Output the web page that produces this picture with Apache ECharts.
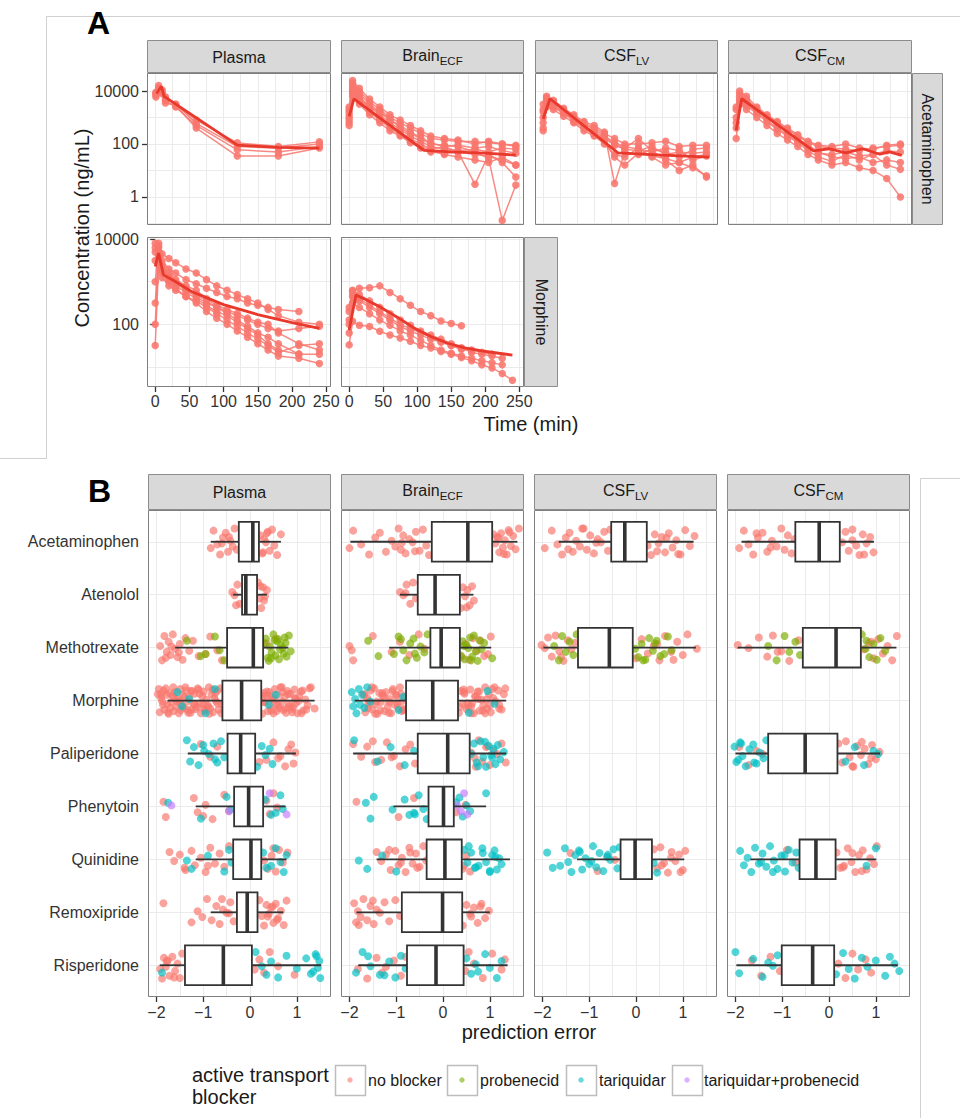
<!DOCTYPE html>
<html><head><meta charset="utf-8">
<script src="https://cdn.jsdelivr.net/npm/echarts@6/dist/echarts.min.js"></script>
<style>html,body{margin:0;padding:0;background:#fff}#c{width:960px;height:1118px}</style>
</head><body><div id="c"></div><script>
// ---------------- DATA ----------------
const COMPARTMENTS = ['Plasma', 'BrainECF', 'CSFLV', 'CSFCM'];
const DRUGS = ['Acetaminophen','Atenolol','Methotrexate','Morphine','Paliperidone','Phenytoin','Quinidine','Remoxipride','Risperidone'];
const BLOCKERS = ['no blocker','probenecid','tariquidar','tariquidar+probenecid'];
const TIME_TICKS = [0,50,100,150,200,250];
const TIME_MINOR = [25,75,125,175,225];
const CONC_TICKS_ROW1 = [1,100,10000];
const CONC_MINOR_ROW1 = [0.1,10,1000];
const CONC_TICKS_ROW2 = [100,10000];
const CONC_MINOR_ROW2 = [10,1000];
const ERR_TICKS = [-2,-1,0,1];
const ERR_MINOR = [-1.5,-0.5,0.5,1.5];

// Panel A: Acetaminophen
const apapPlasmaT = [1,5,10,15,30,60,120,180,240];
const apapPlasmaSubj = [
 [7000,13000,11000,6000,3000,800,110,80,120],
 [9000,16000,9000,4500,2500,500,60,50,80],
 [6000,10000,8000,3500,2800,400,35,35,70],
 [8000,12000,10000,5500,3200,600,80,70,100]];
const apapPlasmaModel = [[2,8000],[9,15000],[13,6300],[120,90],[180,75],[240,70]];

const apapBrainT = [0,5,15,30,45,60,75,90,105,120,140,160,185,205,225,245];
const apapBrainSubj = [
 [2000,20000,10000,4000,2000,1000,630,400,250,160,140,125,125,110,100,90],
 [1000,12600,6300,2500,1260,630,355,200,126,80,63,56,63,50,70,63],
 [630,8000,4000,1600,800,400,224,126,80,56,40,32,25,20,32,16],
 [2500,16000,8000,3200,1600,800,500,280,180,110,80,50,3,40,20,5.6],
 [800,25000,12600,5000,2500,1260,800,500,316,200,160,140,100,126,100,80],
 [1260,6300,3200,1260,630,316,200,112,70,50,45,50,40,35,25,16],
 [500,10000,5000,2000,1000,500,280,160,100,63,80,90,70,80,56,45],
 [1600,10000,5000,2500,1600,900,400,250,160,100,90,80,50,28,0.13,2.8]];
const apapBrainModel = [[0,1100],[7,5000],[110,57],[150,50],[200,45],[245,38]];

const apapCsfT = [0,5,15,30,45,60,75,90,105,120,140,160,180,200,220,240];
const apapLvSubj = [
 [3160,5600,4000,2000,1120,630,400,250,160,100,100,112,126,80,90,90],
 [1000,4000,2800,1600,800,450,250,160,90,63,56,80,40,50,45,50],
 [400,2500,2000,1120,630,316,200,100,40,32,70,32,16,20,32,40],
 [1600,6300,4500,2240,1260,700,500,280,3.2,50,40,63,50,32,63,70],
 [316,3160,2500,1400,900,500,280,180,100,70,160,56,25,10,16,5.6],
 [2000,5000,3500,1800,1000,560,355,200,112,80,63,50,70,56,25,35],
 [630,3500,2800,1600,700,400,224,126,32,16,45,35,28,20,12.6,6.3]];
const apapLvModel = [[0,900],[10,5100],[110,46],[175,38],[244,32]];
const apapCmSubj = [
 [2000,8000,5000,2240,1120,630,355,200,112,80,70,63,56,70,80,90],
 [400,5000,3160,1600,800,400,224,126,70,45,40,50,35,40,56,50],
 [160,3160,2000,1000,500,250,140,80,40,25,16,20,12.6,10,5,1],
 [1000,6300,4000,2000,1000,500,280,160,90,50,32,28,32,20,25,20],
 [630,4000,2800,1400,700,355,200,112,56,32,22,40,25,40,16,11],
 [2500,10000,6300,2500,1260,700,400,224,126,90,80,100,70,63,90,100]];
const apapCmModel = [[0,330],[8,5100],[113,55],[136,66],[160,46],[185,66],[210,41],[224,50],[242,37]];

// Panel A: Morphine
const morphPlasmaT = [0,5,10,20,30,45,60,75,90,105,120,135,150,165,180,210,240];
const morphPlasmaSubj = [
 [8000,6300,3160,2000,1600,1120,900,700,560,450,400,316,280,250,224,200,null],
 [6300,5000,2000,1260,900,630,450,316,250,200,160,126,100,80,70,80,90],
 [1000,7000,2500,1400,1000,700,500,355,250,180,126,90,63,50,35,20,20],
 [100,4000,1600,1000,700,450,316,200,140,100,70,50,35,25,18,16,12],
 [3160,4000,1800,1120,800,560,400,280,200,160,112,80,56,35,25,20,null],
 [32,2500,1260,800,630,450,355,250,180,126,90,63,45,32,22,32,35],
 [5000,8000,4500,3500,2800,2000,1600,1120,800,630,500,400,316,224,160,112,100],
 [316,5000,2240,1600,1120,800,630,400,280,224,180,140,112,100,63,35,25]];
const morphPlasmaModel = [[0,2300],[5,4700],[12,1450],[30,1000],[53,590],[100,290],[150,170],[200,110],[240,80]];

const morphBrainT = [0,5,15,30,45,60,75,90,105,120,135,150,165,180,195,210,225,240];
const morphBrainSubj = [
 [200,600,700,720,800,560,400,280,200,160,120,105,93,null,null,null,null,null],
 [33,118,95,89,69,56,48,40,32,28,23,20,16.6,14,11.2,9.5,7,4.9],
 [100,500,400,280,200,140,100,80,63,50,40,32,28,25,22,20,null,null],
 [250,630,500,355,250,178,126,95,70,56,45,35,28,22,20,18,16,null],
 [63,316,250,178,126,95,70,56,42,32,25,21,18,16,14,12.6,11.2,null],
 [126,450,355,250,178,126,89,70,56,45,38,32,26,24,null,null,null,null]];
const morphBrainModel = [[0,74],[10,490],[25,380],[45,260],[70,150],[96,81],[120,52],[145,36],[170,28],[195,24],[220,21],[240,19]];

// Panel B: box statistics [drug, min, Q1, median, Q3, max]
const boxPlasma = [
 [0,-0.84,-0.24,0.06,0.19,0.66],[1,-0.36,-0.17,-0.09,0.15,0.36],[2,-1.6,-0.49,0.07,0.28,0.82],
 [3,-1.76,-0.59,-0.18,0.24,1.38],[4,-1.33,-0.48,-0.2,0.11,0.98],[5,-1.16,-0.34,-0.03,0.28,0.76],
 [6,-1.16,-0.36,0.02,0.24,0.78],[7,-0.84,-0.28,-0.06,0.16,0.71],[8,-1.93,-1.39,-0.57,0.04,1.52]];
const boxBrain = [
 [0,-1.98,-0.24,0.53,1.05,1.59],[1,-0.92,-0.54,-0.17,0.36,0.65],[2,-1.15,-0.27,-0.04,0.36,1.03],
 [3,-1.89,-0.79,-0.22,0.32,1.35],[4,-1.92,-0.54,0.10,0.57,1.35],[5,-1.06,-0.31,0.01,0.23,0.92],
 [6,-1.42,-0.35,0.04,0.40,1.43],[7,-1.85,-0.88,-0.01,0.41,1.0],[8,-1.81,-0.77,-0.15,0.44,1.38]];
const boxCsfLv = [
 [0,-1.65,-0.53,-0.24,0.23,1.23],[2,-1.98,-1.24,-0.57,-0.07,1.28],[6,-1.26,-0.33,-0.02,0.34,1.03]];
const boxCsfCm = [
 [0,-1.87,-0.72,-0.21,0.23,0.96],[2,-1.95,-0.56,0.15,0.68,1.44],[4,-2.0,-1.30,-0.51,0.18,1.09],
 [6,-1.68,-0.63,-0.28,0.14,1.01],[8,-1.98,-1.01,-0.35,0.11,1.47]];

// Panel B: observed prediction errors [drug, blocker, values]
const JITTER = [0.12,-0.21,0.05,0.24,-0.08,-0.17,0.19,-0.02,0.09,-0.25,0.15,-0.12,0.22,-0.05,0.01,-0.19,0.17,-0.23,0.07,0.25,-0.14,0.03,-0.09,0.2,-0.16,0.11,-0.03,0.24,-0.22,0.08,-0.11,0.14,-0.25,0.02,0.18,-0.07,0.23,-0.18,0.06,-0.13,0.16];
const morphPlasmaNB = [-1.97,-1.93,-1.9,-1.88,-1.85,-1.83,-1.8,-1.77,-1.74,-1.72,-1.69,-1.66,-1.63,-1.6,-1.58,-1.55,-1.52,-1.49,-1.47,-1.44,-1.41,-1.38,-1.35,-1.33,-1.3,-1.27,-1.24,-1.21,-1.19,-1.16,-1.13,-1.1,-1.07,-1.05,-1.02,-0.99,-0.96,-0.93,-0.9,-0.88,-0.85,-0.82,-0.79,-0.76,-0.73,-0.7,-0.67,-0.64,-0.61,0.26,0.29,0.32,0.35,0.38,0.41,0.44,0.47,0.5,0.53,0.56,0.59,0.62,0.65,0.68,0.71,0.74,0.77,0.8,0.83,0.86,0.89,0.92,0.95,0.98,1.01,1.05,1.09,1.13,1.18,1.23,1.3,1.38,-1.9,-1.75,-1.62,-1.5,-1.36,-1.25,-1.12,-1.0,-0.87,-0.74,0.3,0.43,0.57,0.7,0.84,0.97,1.1,-1.95,-1.86,-1.78,-1.7,-1.64,-1.56,-1.48,-1.4,-1.32,-1.26,-1.18,-1.08,-0.98,-0.9,-0.8,-0.7,-0.62,0.27,0.36,0.45,0.52,0.6,0.68,0.75,0.82,0.9,0.96,1.04,1.12,1.2,1.27];
const morphBrainNB = [-1.7,-1.66,-1.62,-1.58,-1.55,-1.51,-1.47,-1.44,-1.4,-1.36,-1.33,-1.29,-1.25,-1.22,-1.18,-1.14,-1.11,-1.07,-1.03,-1.0,-0.96,-0.92,-0.89,-0.85,-0.81,0.34,0.38,0.42,0.46,0.5,0.54,0.58,0.62,0.66,0.7,0.74,0.78,0.82,0.86,0.9,0.94,0.98,1.02,1.07,1.12,1.18,1.25,1.33,-1.6,-1.45,-1.3,-1.15,-1.0,-0.88,0.45,0.6,0.75,0.9,1.05,1.2,-1.68,-1.6,-1.52,-1.42,-1.34,-1.26,-1.16,-1.08,-0.98,-0.9,-0.83,0.36,0.44,0.52,0.6,0.68,0.77,0.85,0.93,1.0,1.1,1.2,1.3];
const morphBrainTar = [-1.95,-1.92,-1.88,-1.85,-1.8,-1.77,-1.73,-1.68,-1.62,-1.55,-0.95,-0.85,0.55,0.95,1.1];
const ptsPlasma = [
 [0,0,[-0.84,-0.78,-0.7,-0.64,-0.58,-0.52,-0.47,-0.42,-0.37,-0.33,-0.28,0.22,0.26,0.3,0.34,0.38,0.42,0.47,0.52,0.58,0.66,-0.6,-0.45,0.28,0.36]],
 [1,0,[-0.38,-0.33,-0.27,-0.22,0.17,0.2,0.24,0.28,0.32,0.36,-0.3,0.22,0.3]],
 [2,0,[-1.92,-1.88,-1.83,-1.78,-1.74,-1.7,-1.65,-1.6,-1.55,-1.5,-1.44,-1.38,-1.3,-1.22,-1.1,-0.95,-0.85,-0.7,-0.6,0.35,0.55,-1.8,-1.68,-1.52]],
 [2,1,[-1.35,-1.05,-0.95,-0.75,-0.65,-0.55,0.3,0.34,0.38,0.42,0.46,0.5,0.54,0.58,0.62,0.66,0.7,0.74,0.78,0.83,0.87,0.4,0.52,0.64,0.76,0.45,0.6,0.72]],
 [3,0,morphPlasmaNB],
 [3,2,[-1.55,-1.45,-1.3,-0.95,-0.75,0.4,0.55]],
 [4,0,[-1.05,-0.85,-0.7,0.2,0.35,0.5,0.65,0.75,0.82,0.88,0.93,0.97,0.6]],
 [4,2,[-1.35,-1.28,-1.2,-1.1,-0.98,-0.88,-0.78,-0.7,-0.62,-0.55,0.15,0.25,0.33,0.42,0.48,-1.0,-0.75]],
 [5,0,[-1.85,-1.8,-1.2,-1.12,-0.95,-0.8,-0.55,-0.45,0.35,0.42,0.5,0.58,-1.0]],
 [5,2,[-1.75,-1.05,-0.5,-0.42,0.32,0.45,0.55,0.65,0.7]],
 [5,3,[-1.68,-0.45,0.42,0.78]],
 [6,0,[-1.72,-1.62,-1.5,-1.38,-1.25,-1.18,-1.05,-0.95,-0.85,-0.75,-0.65,-0.55,-0.45,0.3,0.38,0.46,0.55,0.62,0.7,0.8,-1.4,-0.9,0.5]],
 [6,2,[-1.35,-1.25,-0.9,-0.55,-0.45,-0.4,0.28,0.35,0.45,0.55,0.65,0.72,0.78]],
 [7,0,[-1.85,-1.25,-1.12,-1.02,-0.92,-0.82,-0.72,-0.65,-0.58,-0.5,-0.42,-0.35,0.2,0.25,0.3,0.35,0.4,0.45,0.5,0.55,0.6,0.66,0.72,0.78,0.38,0.48,0.58,-0.6,-0.45]],
 [8,0,[-1.92,-1.88,-1.84,-1.8,-1.76,-1.72,-1.66,-1.6,-1.55,-1.5,-1.45,0.1,0.2,0.3,0.42,0.6,0.95,-1.78,-1.62]],
 [8,2,[-1.88,0.12,0.25,0.35,0.45,0.6,0.78,1.0,1.2,1.3,1.35,1.4,1.45,1.5,1.48,1.42]]];
const ptsBrain = [
 [0,0,[-2.0,-1.92,-1.75,-1.58,-1.45,-1.35,-1.22,-1.1,-1.02,-0.95,-0.9,-0.85,-0.8,-0.72,-0.65,-0.58,-0.5,-0.43,-0.36,-0.3,1.08,1.12,1.16,1.2,1.24,1.28,1.32,1.36,1.4,1.45,1.5,1.55,1.62,-0.88,-0.6,1.18,1.3,1.42]],
 [1,0,[-0.92,-0.85,-0.78,-0.7,-0.64,-0.58,0.38,0.42,0.47,0.52,0.57,0.62,0.66,-0.8,0.5]],
 [2,0,[-2.0,-1.92,-1.5,-1.1,-0.92,-0.72,-0.52,-0.4,0.4,0.48,0.56,0.64,0.72,0.8,0.88,0.96,1.02,-1.95]],
 [2,1,[-1.6,-1.38,-1.05,-0.95,-0.85,-0.78,-0.7,-0.63,-0.56,-0.48,-0.4,-0.33,0.38,0.42,0.46,0.5,0.54,0.58,0.62,0.66,0.7,0.74,0.78,0.82,0.88,1.05,-0.9,-0.6,0.45,0.6]],
 [3,0,morphBrainNB],
 [3,2,morphBrainTar],
 [4,0,[-1.92,-1.75,-1.62,-1.45,-1.32,-1.2,-1.05,-0.92,-0.8,-0.7,-0.6,0.6,0.68,0.76,0.84,0.92,1.0,1.08,1.16,1.25,1.34,-1.5,-1.1,0.7,0.95]],
 [4,2,[-1.9,-1.4,-1.12,-0.82,-0.62,0.6,0.66,0.72,0.8,0.86,0.92,0.98,1.03,1.08,1.12,1.17,1.22,1.3,0.75,0.9,1.05]],
 [5,0,[-1.85,-0.95,-0.62,0.28,0.48]],
 [5,2,[-1.65,-1.55,-1.48,-1.08,-0.82,-0.72,-0.62,-0.52,-0.42,-0.35,0.28,0.35,0.42,0.5,0.58,0.92,-0.6]],
 [5,3,[0.3,0.38,0.45,0.52]],
 [6,0,[-1.42,-1.32,-1.22,-1.12,-1.02,-0.95,-0.88,-0.8,-0.72,-0.65,-0.58,-0.5,-0.42,-0.36,0.42,0.5,0.58,-1.15,-0.9,-0.7,-0.55,0.45]],
 [6,2,[-1.8,-1.62,-1.3,-1.0,0.45,0.52,0.6,0.68,0.76,0.84,0.92,1.0,1.05,1.1,1.15,1.2,1.25,0.55,0.7,0.85,1.0,1.12]],
 [7,0,[-1.9,-1.86,-1.82,-1.76,-1.7,-1.62,-1.55,-1.48,-1.42,-1.35,-1.25,-1.15,-1.02,-0.92,0.42,0.5,0.58,0.66,0.74,0.82,0.9,0.98,-1.8,-1.5,0.6,0.8]],
 [8,0,[-1.82,-1.62,-1.42,-1.22,-1.05,-0.9,-0.8,0.48,0.66,0.85,1.05,1.25,1.32,-1.3,0.55]],
 [8,2,[-1.86,-1.72,-1.55,-1.35,-1.15,-1.02,-0.9,-0.8,0.5,0.6,0.75,0.9,1.0,1.15,1.25,-1.6,-1.25,0.7]]];
const ptsCsfLv = [
 [0,0,[-1.95,-1.8,-1.68,-1.58,-1.5,-1.42,-1.35,-1.28,-1.2,-1.12,-1.05,-0.98,-0.9,-0.82,-0.75,-0.68,-0.6,-0.55,0.25,0.32,0.4,0.48,0.55,0.62,0.7,0.78,0.86,0.95,1.05,1.15,1.25,-1.45,-1.15,-0.85,0.45,0.65,0.9]],
 [2,0,[-2.02,-1.95,-1.88,-1.8,-1.72,-1.64,-1.55,-1.46,-1.38,-1.3,0.0,0.12,0.25,0.38,0.5,0.62,0.75,0.88,1.0,1.1,1.3,-1.6,0.45,0.8]],
 [2,1,[-1.75,-1.65,-1.58,-1.5,-1.42,-1.34,-1.27,-0.02,0.05,0.12,0.2,0.28,0.36,0.44,0.52,0.6,0.68,0.76,0.15,0.4]],
 [6,2,[-1.9,-1.78,-1.62,-1.52,-1.45,-1.38,-1.3,-1.22,-1.15,-1.08,-1.0,-0.92,-0.85,-0.78,-0.7,-0.62,-0.55,-0.48,-0.4,-0.35,0.38,0.45,-1.2,-0.95,-0.6]],
 [6,0,[-1.4,-0.82,-0.6,-0.45,0.38,0.45,0.52,0.6,0.68,0.76,0.84,0.92,1.0,1.05,0.55,0.75,0.95]]];
const ptsCsfCm = [
 [0,0,[-1.92,-1.82,-1.72,-1.62,-1.52,-1.42,-1.32,-1.22,-1.12,-1.02,-0.95,-0.88,-0.8,-0.74,0.28,0.35,0.42,0.5,0.58,0.65,0.72,0.8,0.88,0.95,-1.55,-1.25,0.5,0.75]],
 [2,0,[-1.95,-1.72,-1.5,-1.32,-1.2,-1.02,-0.85,-0.65,0.75,0.85,0.95,1.05,1.15,1.25,1.35,1.45,-1.1,0.9]],
 [2,1,[-1.3,-1.12,-0.95,-0.85,-0.72,-0.62,0.7,0.78,0.86,0.95,1.02,1.1,1.2,0.8]],
 [4,2,[-2.02,-1.98,-1.94,-1.9,-1.85,-1.78,-1.7,-1.62,-1.55,-1.48,-1.4,-1.34,0.35,0.55,0.75,0.95,1.05,-1.88,-1.6]],
 [4,0,[-1.92,-1.72,-1.55,-1.42,0.2,0.28,0.36,0.44,0.52,0.6,0.68,0.76,0.84,0.92,1.0,1.08,0.5,0.7,0.9]],
 [6,2,[-1.9,-1.82,-1.74,-1.66,-1.58,-1.5,-1.42,-1.34,-1.26,-1.18,-1.1,-1.02,-0.94,-0.86,-0.78,-0.7,-0.65,0.8,1.0,-1.45,-1.2,-0.95]],
 [6,0,[-0.9,-0.72,0.16,0.24,0.32,0.4,0.48,0.56,0.64,0.72,0.8,0.88,0.96,1.02,0.3,0.5,0.7]],
 [8,2,[-2.0,-1.92,-1.62,-1.42,-1.3,-1.2,-1.1,0.15,0.3,0.42,0.55,0.7,0.82,1.0,1.2,1.3,1.5,1.4]],
 [8,0,[-1.65,-1.45,-1.25,-1.05,0.2,0.35,0.5,0.62,0.78,0.9]]];

// ---------------- STYLE / LAYOUT ----------------
const FONT = '"Liberation Sans", Arial, Helvetica, sans-serif';
const GRID_LINE = '#ebebeb';
const TICK = '#333333';
const BORDER = '#7f7f7f';
const STRIP_FILL = '#d9d9d9';
const STRIP_BORDER = '#8c8c8c';
const INDIV = '#f8766d';
const MODEL = '#e8392c';
const BLOCKER_COLORS = ['#f8766d','#7cae00','#00bfc4','#c77cff'];
const A_COLS = [{left:147,width:184},{left:341,width:183},{left:535,width:183},{left:728,width:184}];
const A_ROW1 = {top:73,height:152};
const A_ROW2 = {top:237,height:150};
const B_COLS = [{left:148,width:183},{left:341,width:183},{left:534,width:183},{left:727,width:183}];
const B_ROW = {top:510,height:487};

const grids=[], xAxes=[], yAxes=[], series=[], graphics=[];
const log10 = Math.log10;

function addGrid(col,row){ grids.push({left:col.left,top:row.top,width:col.width,height:row.height,show:false,containLabel:false,outerBoundsMode:'none'}); return grids.length-1; }
function addAxis(list, gi, min, max, lines, ticks, fmt, extra, margin){
  list.push(Object.assign({type:'value',gridIndex:gi,min,max,axisLine:{show:false},axisLabel:{show:false},
    axisTick:{show:false,customValues:lines},splitLine:{show:true,lineStyle:{color:GRID_LINE,width:1}}},extra));
  const idx=list.length-1;
  if(ticks){
    list.push(Object.assign({type:'value',gridIndex:gi,min,max,axisLine:{show:false},splitLine:{show:false},
      axisTick:{show:true,customValues:ticks,length:5,lineStyle:{color:TICK,width:1.3}},
      axisLabel:{show:true,customValues:ticks,formatter:fmt,color:'#333',fontSize:16,fontFamily:FONT,margin:margin}},extra));
  }
  return idx;
}
function concFmt(v){ return String(Math.round(Math.pow(10,v))); }
function errFmt(v){ return v<0 ? '\u2212'+Math.abs(v) : String(v); }
function timeFmt(v){ return String(v); }
function box(col,rowTop,rowH){
  graphics.push({type:'rect',z:100,shape:{x:col.left+0.5,y:rowTop+0.5,width:col.width-1,height:rowH-1},style:{fill:'none',stroke:BORDER,lineWidth:1}});
}
function stripRect(x,y,w,h){ graphics.push({type:'rect',z:90,shape:{x:x+0.5,y:y+0.5,width:w-1,height:h-1},style:{fill:STRIP_FILL,stroke:STRIP_BORDER,lineWidth:1}}); }
function stripLabel(cx,cy,main,sub,rot){
  const style = sub ? {text:'{a|'+main+'}{s|'+sub+'}',rich:{a:{fontSize:16,fontFamily:FONT,fill:'#1a1a1a',verticalAlign:'bottom',padding:[0,0,3,0]},s:{fontSize:11.5,fontFamily:FONT,fill:'#1a1a1a',verticalAlign:'bottom'}},align:'center',verticalAlign:'middle'}
                    : {text:main,fontSize:16,fontFamily:FONT,fill:'#1a1a1a',align:'center',verticalAlign:'middle'};
  graphics.push({type:'text',z:95,x:cx,y:cy,rotation:rot||0,style});
}
function text(x,y,t,size,opts){
  graphics.push({type:'text',z:95,x,y,rotation:(opts&&opts.rot)||0,style:Object.assign({text:t,fontSize:size,fontFamily:FONT,fill:'#1a1a1a',align:'left',verticalAlign:'middle'},opts&&opts.style)});
}

// ---------------- PANEL A ----------------
const T_MIN=-12, T_MAX=257;
const R1 = [-1.06,4.68], R2=[0.53,4.05];
function linePanel(col,row,range,lines,ticks,showY,showX,times,subjects,model){
  const gi=addGrid(col,row);
  const xi=addAxis(xAxes,gi,T_MIN,T_MAX,TIME_TICKS.concat(TIME_MINOR),showX?TIME_TICKS:null,timeFmt,{position:'bottom'},6);
  const yi=addAxis(yAxes,gi,range[0],range[1],lines,showY?ticks:null,concFmt,{position:'left'},8);
  subjects.forEach(s=>{
    const d=[]; s.forEach((v,k)=>{ if(v!=null) d.push([times[k],log10(v)]); });
    series.push({type:'line',xAxisIndex:xi,yAxisIndex:yi,data:d,symbol:'circle',symbolSize:7.5,showSymbol:true,
      lineStyle:{color:INDIV,width:1.5,opacity:0.85},itemStyle:{color:INDIV,opacity:0.88},z:2,silent:true,animation:false});
  });
  series.push({type:'line',xAxisIndex:xi,yAxisIndex:yi,data:model.map(p=>[p[0],log10(p[1])]),symbol:'none',showSymbol:false,
    lineStyle:{color:MODEL,width:2.8},z:3,silent:true,animation:false});
  box(col,row.top,row.height);
}
const t1=CONC_TICKS_ROW1.map(log10), t2=CONC_TICKS_ROW2.map(log10);
const lines1=CONC_TICKS_ROW1.concat(CONC_MINOR_ROW1).map(log10), lines2=CONC_TICKS_ROW2.concat(CONC_MINOR_ROW2).map(log10);
linePanel(A_COLS[0],A_ROW1,R1,lines1,t1,true,false,apapPlasmaT,apapPlasmaSubj,apapPlasmaModel);
linePanel(A_COLS[1],A_ROW1,R1,lines1,t1,false,false,apapBrainT,apapBrainSubj,apapBrainModel);
linePanel(A_COLS[2],A_ROW1,R1,lines1,t1,false,false,apapCsfT,apapLvSubj,apapLvModel);
linePanel(A_COLS[3],A_ROW1,R1,lines1,t1,false,false,apapCsfT,apapCmSubj,apapCmModel);
linePanel(A_COLS[0],A_ROW2,R2,lines2,t2,true,true,morphPlasmaT,morphPlasmaSubj,morphPlasmaModel);
linePanel(A_COLS[1],A_ROW2,R2,lines2,t2,false,true,morphBrainT,morphBrainSubj,morphBrainModel);

// strips A
const stripNames = [['Plasma',null],['Brain','ECF'],['CSF','LV'],['CSF','CM']];
A_COLS.forEach((c,i)=>{ stripRect(c.left,40,c.width,A_ROW1.top-40); stripLabel(c.left+c.width/2,57,stripNames[i][0],stripNames[i][1]); });
stripRect(912,A_ROW1.top,31,A_ROW1.height); stripLabel(927.5,A_ROW1.top+A_ROW1.height/2,'Acetaminophen',null,-Math.PI/2);
stripRect(524,A_ROW2.top,34,A_ROW2.height); stripLabel(541,A_ROW2.top+A_ROW2.height/2,'Morphine',null,-Math.PI/2);
text(82,228,'Concentration (ng/mL)',20,{rot:Math.PI/2,style:{align:'center'}});
text(531,424,'Time (min)',20,{style:{align:'center'}});
text(87,23,'A',32,{style:{fontWeight:'bold',fill:'#000'}});

// ---------------- PANEL B ----------------
const E_MIN=-2.18, E_MAX=1.73;
function boxRender(params,api){
  const y=api.value(0);
  const p=[1,2,3,4,5].map(k=>api.coord([api.value(k),y]));
  const h=api.size([0,0.75])[1];
  const cy=p[2][1];
  const st={stroke:'#333',lineWidth:1.8};
  return {type:'group',children:[
    {type:'line',shape:{x1:p[0][0],y1:cy,x2:p[1][0],y2:cy},style:st},
    {type:'line',shape:{x1:p[3][0],y1:cy,x2:p[4][0],y2:cy},style:st},
    {type:'rect',shape:{x:p[1][0],y:cy-h/2,width:p[3][0]-p[1][0],height:h},style:{fill:'#fff',stroke:'#333',lineWidth:1.8}},
    {type:'line',shape:{x1:p[2][0],y1:cy-h/2,x2:p[2][0],y2:cy+h/2},style:{stroke:'#333',lineWidth:3.6}}
  ]};
}
function errPanel(ci,boxes,pts){
  const col=B_COLS[ci];
  const gi=addGrid(col,B_ROW);
  const xi=addAxis(xAxes,gi,E_MIN,E_MAX,ERR_TICKS.concat(ERR_MINOR),ERR_TICKS,errFmt,{position:'bottom'},7);
  const cats=DRUGS.map((d,i)=>i);
  yAxes.push({type:'value',gridIndex:gi,min:-0.6,max:8.6,inverse:true,position:'left',axisLine:{show:false},
    splitLine:{show:true,lineStyle:{color:GRID_LINE,width:1}},
    axisTick:{show:ci===0,customValues:cats,length:5,lineStyle:{color:TICK,width:1.3}},
    axisLabel:{show:ci===0,customValues:cats,formatter:v=>DRUGS[Math.round(v)],color:'#333',fontSize:16,fontFamily:FONT,margin:9}});
  const yi=yAxes.length-1;
  const byB=[[],[],[],[]];
  pts.forEach((g,gIdx)=>{ g[2].forEach((x,i)=>{ byB[g[1]].push([x, g[0]+JITTER[(i+gIdx*13)%JITTER.length]]); }); });
  byB.forEach((d,b)=>{ if(d.length) series.push({type:'scatter',name:BLOCKERS[b],xAxisIndex:xi,yAxisIndex:yi,data:d,symbolSize:8,
    itemStyle:{color:BLOCKER_COLORS[b],opacity:0.68},z:2,silent:true,animation:false}); });
  series.push({type:'custom',xAxisIndex:xi,yAxisIndex:yi,data:boxes,encode:{x:[1,2,3,4,5],y:0},renderItem:boxRender,z:4,silent:true,animation:false});
  box(col,B_ROW.top,B_ROW.height);
  stripRect(col.left,474,col.width,B_ROW.top-474);
  stripLabel(col.left+col.width/2,492,stripNames[ci][0],stripNames[ci][1]);
}
errPanel(0,boxPlasma,ptsPlasma);
errPanel(1,boxBrain,ptsBrain);
errPanel(2,boxCsfLv,ptsCsfLv);
errPanel(3,boxCsfCm,ptsCsfCm);
text(529,1032,'prediction error',20,{style:{align:'center'}});
text(88,491,'B',32,{style:{fontWeight:'bold',fill:'#000'}});

// legend
text(192,1075,'active transport',20);
text(192,1097,'blocker',20);
const keyX=[335,447,566,672], keyTextX=[368,480,599,704];
BLOCKERS.forEach((b,i)=>{
  graphics.push({type:'rect',z:95,shape:{x:keyX[i]+0.5,y:1065.5,width:30,height:30},style:{fill:'#fff',stroke:'#bdbdbd',lineWidth:1.5}});
  graphics.push({type:'circle',z:96,shape:{cx:keyX[i]+15,cy:1080,r:2.7},style:{fill:BLOCKER_COLORS[i],opacity:0.6}});
  text(keyTextX[i],1080,b,16);
});

// frame lines of the composite figure
graphics.push({type:'polyline',z:80,shape:{points:[[960,16.5],[46.5,16.5],[46.5,458.5],[0,458.5]]},style:{fill:'none',stroke:'#d0d0d0',lineWidth:1}});
graphics.push({type:'polyline',z:80,shape:{points:[[960,478.5],[920.5,478.5],[920.5,1118]]},style:{fill:'none',stroke:'#d0d0d0',lineWidth:1}});

const chart = echarts.init(document.getElementById('c'), null, {renderer:'svg'});
chart.setOption({animation:false,backgroundColor:'#fff',grid:grids,xAxis:xAxes,yAxis:yAxes,series:series,graphic:{elements:graphics}});
</script></body></html>
